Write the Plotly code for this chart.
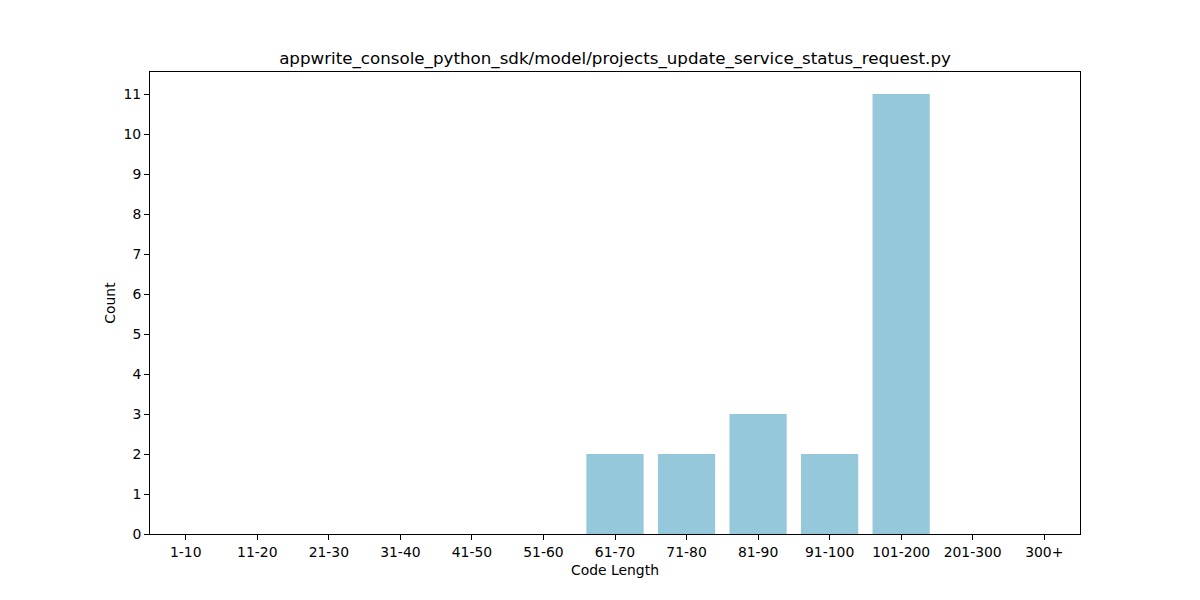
import plotly.graph_objects as go

categories = ["1-10", "11-20", "21-30", "31-40", "41-50", "51-60", "61-70",
              "71-80", "81-90", "91-100", "101-200", "201-300", "300+"]
counts = [0, 0, 0, 0, 0, 0, 2, 2, 3, 2, 11, 0, 0]
title = "appwrite_console_python_sdk/model/projects_update_service_status_request.py"

fig = go.Figure(go.Bar(
    x=categories, y=counts, width=0.8,
    marker=dict(color="rgb(150,200,220)", line=dict(width=0)),
))

font = dict(family="DejaVu Sans", size=13.9, color="black")
axis_common = dict(
    showline=True, linecolor="black", linewidth=1, mirror=True,
    ticks="outside", ticklen=5, tickwidth=1, tickcolor="black",
    showgrid=False, zeroline=False, tickfont=font,
)
fig.update_layout(
    width=1200, height=600,
    margin=dict(l=142, r=128, t=64, b=74),
    paper_bgcolor="white", plot_bgcolor="white",
    font=font,
    title=dict(text=title, x=0.5, xanchor="center", xref="paper",
               y=1 - 50 / 600, yanchor="middle",
               font=dict(family="DejaVu Sans", size=16.7, color="black")),
    xaxis=dict(title=dict(text="Code Length", font=font, standoff=6),
               range=[-0.5, 12.5], **axis_common),
    yaxis=dict(title=dict(text="Count", font=font, standoff=4),
               range=[0, 11.55], tickmode="linear", tick0=0, dtick=1,
               **axis_common),
    showlegend=False,
)
fig.write_html("out.html")
